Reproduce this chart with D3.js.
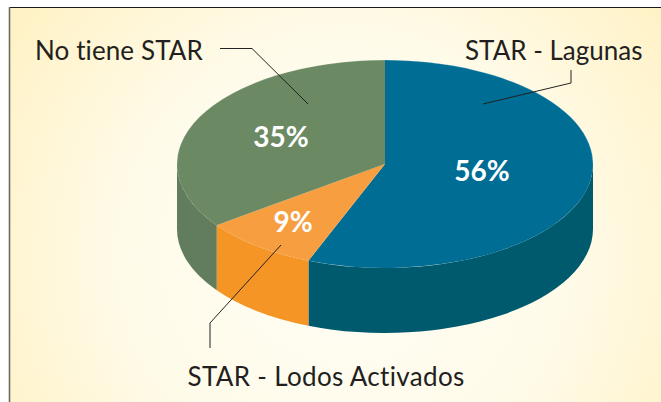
<!DOCTYPE html>
<html><head><meta charset="utf-8">
<script src="https://cdn.jsdelivr.net/npm/d3@7"></script>
<style>html,body{margin:0;padding:0;background:#fff}svg{display:block}text{font-family:"Lato","Open Sans",sans-serif}</style>
</head><body><svg id="c" width="661" height="402"></svg>
<script>
const categories = ["STAR - Lagunas","STAR - Lodos Activados","No tiene STAR"];
const values = [56,9,35];
const valueLabels = ["56%","9%","35%"];
const topColors = ["#006d94","#f69e40","#6b8a64"];
const sideColors = ["#005a6e","#f59526","#627d5d"];

const W=661,H=402,cx=385,cy=164,rx=208,ry=104,depth=65;
const svg=d3.select("#c");
const defs=svg.append("defs");
const g=defs.append("radialGradient").attr("id","bg").attr("gradientUnits","userSpaceOnUse")
  .attr("cx",cx-40).attr("cy",cy+90).attr("r",400);
g.append("stop").attr("offset",0).attr("stop-color","#fffef6");
g.append("stop").attr("offset",.55).attr("stop-color","#fffbe9");
g.append("stop").attr("offset",1).attr("stop-color","#fff2c6");

svg.append("rect").attr("width",W).attr("height",H).attr("fill","#fff");
svg.append("rect").attr("x",10).attr("y",8).attr("width",W-10).attr("height",H-8).attr("fill","url(#bg)");
svg.append("line").attr("x1",9).attr("x2",W).attr("y1",7.5).attr("y2",7.5).attr("stroke","#1a1a1a");
svg.append("line").attr("x1",9.5).attr("x2",9.5).attr("y1",7).attr("y2",H).attr("stroke","#6d6a5e").attr("stroke-width",1.6);

const arcs=d3.pie().sort(null).startAngle(0).endAngle(2*Math.PI)(values);
const px=a=>cx+rx*Math.sin(a), py=a=>cy-ry*Math.cos(a);
const R=Math.PI/2, L=3*Math.PI/2;
const arcTo=(a0,a1,sweep,dy=0)=>{
  const large=Math.abs(a1-a0)>Math.PI?1:0;
  return `A${rx},${ry} 0 ${large} ${sweep} ${px(a1)},${py(a1)+dy}`;
};
arcs.forEach((d,i)=>{
  const a0=Math.max(d.startAngle,R),a1=Math.min(d.endAngle,L);
  if(a1<=a0)return;
  svg.append("path").attr("fill",sideColors[i]).attr("d",
    `M${px(a0)},${py(a0)}${arcTo(a0,a1,1)}L${px(a1)},${py(a1)+depth}${arcTo(a1,a0,0,depth)}Z`);
});
arcs.forEach((d,i)=>{
  svg.append("path").attr("fill",topColors[i]).attr("d",
    `M${cx},${cy}L${px(d.startAngle)},${py(d.startAngle)}${arcTo(d.startAngle,d.endAngle,1)}Z`);
});
svg.append("path").attr("fill","none").attr("stroke","#fff").attr("stroke-opacity",.28).attr("stroke-width",.8)
  .attr("d",`M${px(R)},${py(R)}${arcTo(R,L,1).replace(" 0 1 "," 0 0 ")}`);

const leaders=[[[571,70],[571,83],[483,104]],[[281,245],[210,323],[210,348]],[[220,48.5],[252,48.5],[308,104]]];
const line=d3.line();
svg.selectAll(".leader").data(leaders).join("path").attr("class","leader")
  .attr("d",line).attr("fill","none").attr("stroke","#222").attr("stroke-width",1);

const namePos=[[642.5,60,"end",0],[187.5,386,"start",.33],[35,60,"start",.1]];
svg.selectAll(".name").data(categories).join("text").attr("class","name")
  .attr("x",(d,i)=>namePos[i][0]).attr("y",(d,i)=>namePos[i][1]).attr("text-anchor",(d,i)=>namePos[i][2])
  .attr("letter-spacing",(d,i)=>namePos[i][3])
  .attr("font-size",26).attr("fill","#231f20").text(d=>d);
const valPos=[[482,181],[293,232],[281,147]];
svg.selectAll(".val").data(valueLabels).join("text").attr("class","val")
  .attr("x",(d,i)=>valPos[i][0]).attr("y",(d,i)=>valPos[i][1]).attr("text-anchor","middle")
  .attr("font-size",28).attr("font-weight",700).attr("fill","#fff").text(d=>d);
</script></body></html>
